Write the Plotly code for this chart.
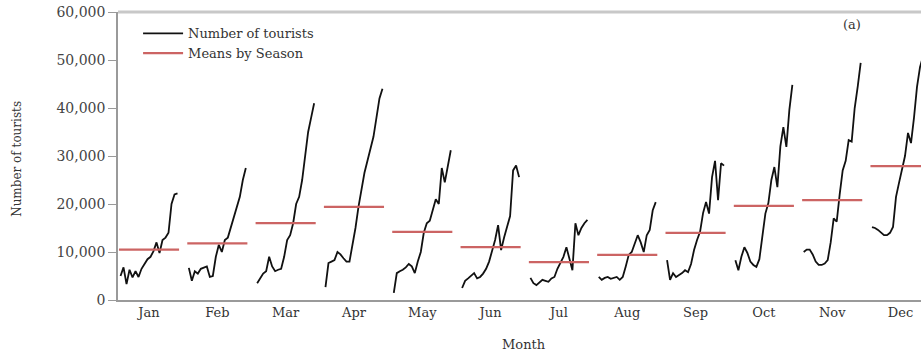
import plotly.graph_objects as go

# Monthly tourist arrivals, one value per year, grouped by calendar month
months = ["Jan", "Feb", "Mar", "Apr", "May", "Jun",
          "Jul", "Aug", "Sep", "Oct", "Nov", "Dec"]

jan = [5000, 6800, 3300, 6300, 4700, 6000, 4800, 6500, 7500, 8500,
       9000, 10200, 12000, 9800, 12500, 13000, 14000, 20000, 22000, 22200]
feb = [6700, 4000, 6000, 5500, 6500, 6800, 7000, 4800, 5000, 9000,
       11500, 10000, 12500, 13000, 15000, 17500, 19500, 21500, 25000, 27500]
mar = [3500, 4500, 5500, 6000, 9000, 7000, 6000, 6300, 6500, 9000,
       12500, 13500, 16000, 20000, 21500, 25000, 30000, 35000, 38000, 41000]
apr = [2700, 7700, 8000, 8300, 10000, 9500, 8700, 8000, 8000, 11500,
       15000, 19400, 23000, 26500, 29000, 31500, 34000, 38000, 42000, 44000]
may = [1500, 5600, 6000, 6300, 6800, 7500, 7000, 5600, 8000, 10000,
       14000, 16000, 16500, 19000, 21000, 20000, 27500, 24500, 28000, 31200]
jun = [2500, 4000, 4500, 5000, 5600, 4500, 4800, 5500, 6500, 8000,
       10000, 12500, 15600, 10400, 13000, 15000, 17500, 27000, 28000, 25600]
jul = [4600, 3500, 3100, 3600, 4200, 4000, 3800, 4500, 4800, 6500,
       7700, 9000, 11000, 8500, 6200, 16000, 13500, 15000, 16000, 16700]
aug = [4800, 4200, 4600, 4800, 4400, 4600, 4800, 4200, 4800, 7000,
       9400, 10000, 12000, 13500, 12000, 10000, 13500, 14600, 18700, 20400]
sep = [8300, 4200, 5600, 4800, 5200, 5600, 6200, 5800, 7500, 10400,
       12500, 14200, 18100, 20400, 18000, 25600, 29000, 20800, 28500, 28000]
oct_ = [8300, 6200, 9000, 11000, 9800, 8000, 7300, 6900, 8500, 13100,
        18000, 20200, 25000, 27700, 23500, 32000, 36000, 31900, 39600, 44800]
nov = [10000, 10500, 10500, 9500, 8000, 7300, 7300, 7600, 8300, 12000,
       17000, 16300, 22000, 27000, 29000, 33300, 33000, 40000, 44400, 49400]
dec = [15200, 15000, 14600, 14000, 13500, 13500, 14000, 15200, 21500, 24400,
       27000, 30000, 34800, 32700, 38000, 44400, 48500, 51000, 53000, 55000]

by_month = [jan, feb, mar, apr, may, jun, jul, aug, sep, oct_, nov, dec]

# Seasonal (monthly) means
season_means = [10500, 11800, 16000, 19400, 14200, 11000,
                7900, 9400, 14000, 19600, 20800, 27900]

y_ticks = [0, 10000, 20000, 30000, 40000, 50000, 60000]

FONT = "DejaVu Serif"
STEP = 0.0439        # horizontal spacing between years inside a month block
HALF_MEAN = 0.44     # half-width of each mean bar

# Build one polyline per month, separated by gaps
sx, sy = [], []
mx, my = [], []
for m, (vals, mean) in enumerate(zip(by_month, season_means), start=1):
    n = len(vals)
    for i, v in enumerate(vals):
        sx.append(m + (i - (n - 1) / 2) * STEP)
        sy.append(v)
    sx.append(None)
    sy.append(None)
    mx += [m - HALF_MEAN, m + HALF_MEAN, None]
    my += [mean, mean, None]

fig = go.Figure()
fig.add_trace(go.Scatter(
    x=sx, y=sy, mode="lines", name="Number of tourists",
    line=dict(color="#111111", width=1.8), connectgaps=False,
))
fig.add_trace(go.Scatter(
    x=mx, y=my, mode="lines", name="Means by Season",
    line=dict(color="#cc6463", width=2.2), connectgaps=False,
))

fig.update_layout(
    width=921, height=352,
    margin=dict(l=118, r=0, t=12, b=52),
    paper_bgcolor="white", plot_bgcolor="white",
    font=dict(family=FONT, size=14, color="#333333"),
    showlegend=True,
    legend=dict(
        x=0.025, y=0.978, xanchor="left", yanchor="top",
        bgcolor="rgba(0,0,0,0)", font=dict(size=13, color="#333333"),
        tracegroupgap=0, itemwidth=40,
    ),
    xaxis=dict(
        range=[0.546, 12.30], tickvals=list(range(1, 13)), ticktext=months,
        showgrid=False, zeroline=False, showline=True,
        linecolor="#9a9a9a", linewidth=1.5, ticks="",
        tickfont=dict(size=13, color="#333333"),
    ),
    yaxis=dict(
        range=[0, 60000], tickvals=y_ticks, tickformat=",",
        showgrid=False, zeroline=False, showline=True,
        linecolor="#9a9a9a", linewidth=1.5, ticks="outside", ticklen=8,
        tickcolor="#9a9a9a", tickfont=dict(size=14, color="#444444"),
    ),
    shapes=[dict(
        type="line", xref="paper", yref="paper", x0=0, x1=1, y0=1, y1=1,
        line=dict(color="#c8c8c8", width=3),
    )],
    annotations=[
        dict(text="Month", xref="paper", yref="paper", x=0.5056, y=-0.155,
             xanchor="center", yanchor="middle", showarrow=False,
             font=dict(size=13, color="#333333")),
        dict(text="Number of tourists", xref="paper", yref="paper",
             x=-0.1258, y=0.49, xanchor="center", yanchor="middle",
             textangle=-90, showarrow=False,
             font=dict(size=12, color="#333333")),
        dict(text="(a)", xref="paper", yref="paper", x=0.914, y=0.955,
             xanchor="center", yanchor="middle", showarrow=False,
             font=dict(size=13, color="#333333")),
    ],
)

fig.write_html("out.html")
